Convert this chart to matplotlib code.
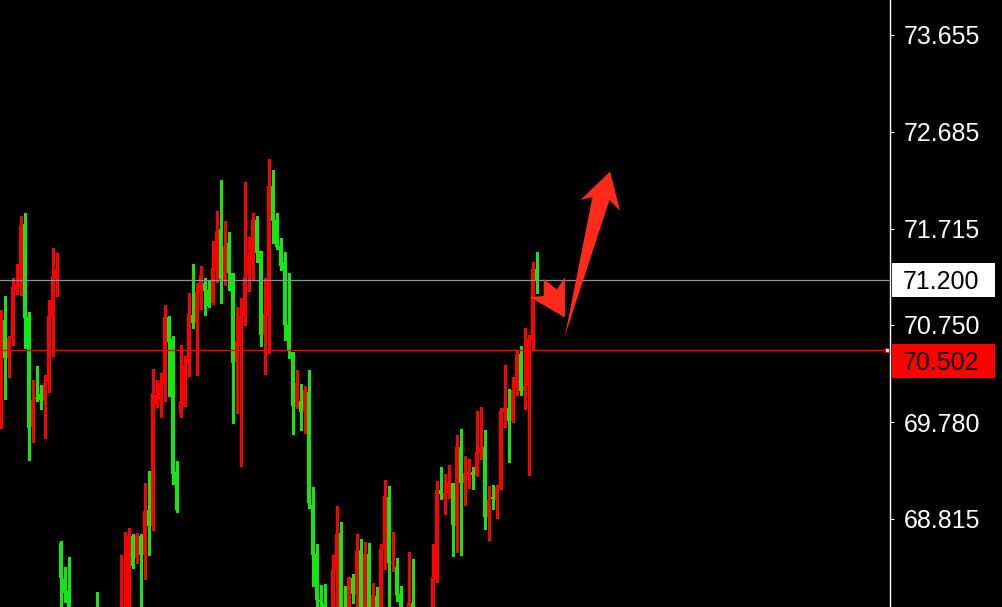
import matplotlib
matplotlib.use("Agg")
import matplotlib.pyplot as plt
import matplotlib.transforms as mtransforms
from matplotlib.patches import Polygon, Rectangle
import numpy as np

# ---- OHLC series (one bar per period) ----
opens = [69.75, 70.80, 70.42, 70.61, 71.10, 71.13, 71.76, 70.83, 69.73, 70.02,
         70.06, 69.99, 70.18, 70.83, 71.21, 68.57, 68.21, 68.09, 67.70, 67.45,
         67.60, 67.40, 67.55, 67.70, 67.82, 67.60, 67.75, 67.55, 67.70, 67.82,
         67.60, 67.86, 67.94, 68.64, 68.42, 68.64, 68.45, 68.90, 68.74, 69.95,
         70.01, 70.16, 70.83, 70.61, 69.28, 69.86, 69.95, 70.38, 70.85, 70.77,
         71.07, 71.17, 71.10, 70.97, 71.31, 71.71, 71.20, 71.57, 71.27, 70.38,
         70.54, 70.84, 71.25, 71.40, 71.80, 71.49, 70.66, 70.84, 72.14, 71.80,
         71.54, 71.37, 70.75, 70.48, 69.93, 69.99, 69.88, 70.08, 68.95, 68.46,
         68.00, 67.97, 67.72, 67.82, 68.30, 68.67, 67.85, 67.75, 68.22, 68.05,
         68.50, 67.88, 68.46, 67.85, 68.04, 67.88, 68.52, 69.03, 68.37, 68.33,
         68.06, 67.82, 67.85, 67.97, 67.86, 67.68, 67.80, 67.72, 67.85, 68.21,
         69.10, 69.01, 69.07, 69.17, 68.74, 69.53, 69.17, 69.25, 69.28, 69.25,
         69.47, 69.53, 68.83, 69.03, 69.00, 69.12, 69.88, 69.92, 69.79, 70.12,
         70.46, 70.09, 70.14, 70.60, 71.31]
highs = [70.90, 71.04, 70.64, 71.22, 71.36, 71.84, 71.87, 70.88, 70.20, 70.34,
         70.15, 70.25, 71.00, 71.52, 71.47, 68.59, 68.33, 68.43, 67.80, 67.70,
         67.68, 67.64, 67.80, 67.88, 68.08, 67.85, 67.82, 67.80, 67.88, 67.89,
         68.45, 68.68, 68.72, 68.66, 68.67, 68.66, 69.17, 69.29, 70.31, 70.20,
         70.27, 70.95, 70.84, 70.64, 69.39, 70.55, 70.44, 71.07, 71.36, 71.17,
         71.34, 71.22, 71.20, 71.59, 71.89, 72.20, 71.79, 71.68, 71.27, 70.93,
         71.02, 72.18, 71.63, 71.87, 71.84, 71.49, 71.22, 72.41, 72.30, 71.87,
         71.62, 71.48, 71.27, 70.48, 70.30, 70.16, 70.14, 70.30, 69.13, 68.56,
         68.15, 68.16, 67.88, 68.45, 68.94, 68.78, 68.14, 68.23, 68.26, 68.66,
         68.61, 68.58, 68.57, 68.17, 68.13, 68.56, 69.20, 69.14, 68.68, 68.42,
         68.14, 67.90, 68.48, 68.41, 67.90, 67.85, 67.88, 67.90, 68.56, 69.19,
         69.33, 69.26, 69.35, 69.17, 69.65, 69.71, 69.44, 69.41, 69.33, 69.89,
         69.93, 69.70, 69.14, 69.15, 69.15, 69.92, 70.35, 70.11, 70.23, 70.49,
         70.54, 70.72, 70.65, 71.38, 71.48]
lows = [69.72, 70.01, 70.23, 70.55, 71.06, 71.05, 70.52, 69.40, 69.58, 69.99,
        69.91, 69.62, 70.08, 70.44, 71.04, 67.80, 67.98, 67.60, 67.40, 67.35,
        67.30, 67.32, 67.50, 67.52, 67.50, 67.52, 67.48, 67.50, 67.62, 67.52,
        67.50, 67.64, 67.88, 68.32, 68.37, 67.88, 68.21, 68.45, 68.70, 69.93,
        69.83, 69.99, 70.04, 69.16, 68.88, 69.83, 69.94, 70.24, 70.72, 70.25,
        70.91, 70.85, 70.93, 70.96, 71.18, 70.97, 71.15, 71.10, 69.77, 69.87,
        69.34, 70.75, 71.09, 71.21, 71.38, 70.54, 70.26, 70.47, 71.57, 71.51,
        71.30, 70.60, 70.42, 69.66, 69.92, 69.70, 69.67, 68.92, 68.14, 67.90,
        67.88, 67.70, 67.60, 67.75, 67.88, 67.80, 67.60, 67.68, 67.97, 67.88,
        67.82, 67.82, 67.82, 67.78, 67.80, 67.82, 68.31, 67.88, 68.29, 67.99,
        67.82, 67.75, 67.80, 67.80, 67.60, 67.55, 67.64, 67.68, 67.80, 68.18,
        69.01, 68.86, 69.02, 68.44, 68.48, 68.45, 68.95, 69.12, 69.11, 69.24,
        69.41, 68.71, 68.60, 68.91, 68.82, 69.11, 69.73, 69.38, 69.78, 70.05,
        70.05, 69.91, 69.25, 70.50, 71.07]
closes = [70.80, 70.42, 70.62, 71.13, 71.16, 71.74, 70.82, 69.72, 70.00, 70.01,
          70.00, 70.17, 70.84, 71.24, 71.30, 68.22, 68.07, 67.70, 67.50, 67.60,
          67.38, 67.55, 67.70, 67.82, 67.60, 67.75, 67.55, 67.72, 67.82, 67.60,
          67.88, 67.94, 68.64, 68.34, 68.65, 68.45, 68.89, 68.74, 70.07, 70.05,
          70.17, 70.83, 70.58, 69.26, 68.90, 69.99, 70.34, 70.86, 70.77, 71.08,
          71.25, 71.09, 70.94, 71.32, 71.69, 71.21, 71.53, 71.27, 70.37, 70.59,
          70.84, 71.23, 71.44, 71.80, 71.47, 70.65, 70.86, 72.14, 71.79, 71.53,
          71.34, 70.75, 70.50, 69.94, 70.17, 69.88, 70.10, 68.97, 68.45, 68.00,
          67.98, 67.80, 67.82, 68.30, 68.66, 67.85, 67.65, 68.22, 68.06, 68.49,
          67.88, 68.46, 67.88, 68.05, 67.88, 68.51, 69.04, 68.37, 68.38, 68.05,
          67.88, 67.88, 67.97, 67.86, 67.70, 67.80, 67.72, 67.85, 68.23, 69.10,
          69.06, 69.07, 69.17, 68.75, 69.53, 69.17, 69.27, 69.29, 69.25, 69.48,
          69.53, 68.83, 69.00, 69.01, 69.13, 69.89, 69.92, 69.79, 70.10, 70.46,
          70.09, 70.14, 70.61, 71.31, 71.20]

price_ticks = [73.655, 72.685, 71.715, 70.750, 69.780, 68.815]
bid_price = 71.200
level_price = 70.502

UP_COLOR = "#ff0000"
DOWN_COLOR = "#10e810"
ARROW_COLOR = "#ff2a1c"
TEXT_FONT = "Liberation Sans"

W, H = 1003, 607
PLOT_W = 890          # width of the price pane in pixels
BAR_PX = 4            # horizontal spacing of bars in pixels

fig = plt.figure(figsize=(W / 100, H / 100), dpi=100, facecolor="black")
ax = fig.add_axes([0, 0, PLOT_W / W, 1])
ax.set_facecolor("black")

# bar centres fall on pixel centres so the 3 px bodies stay crisp
x0 = -0.125
ax.set_xlim(x0, x0 + PLOT_W / BAR_PX)
ax.set_ylim(74.0 - H / 100, 74.0)

o = np.array(opens)
c = np.array(closes)
x = np.arange(len(o))
colors = np.where(c >= o, UP_COLOR, DOWN_COLOR)

# wicks
ax.vlines(x, lows, highs, colors=colors, linewidth=0.75, antialiased=False, zorder=2)
# bodies
bottoms = np.minimum(o, c)
heights = np.maximum(np.abs(c - o), 0.012)
ax.bar(x, heights, bottom=bottoms, width=0.75, color=colors, linewidth=0,
       snap=False, zorder=2)

# horizontal price lines
ax.axhline(bid_price, color="#8a929c", linewidth=0.9, zorder=3)
ax.axhline(level_price, color="#ff0000", linewidth=1.0, zorder=3)
blend = mtransforms.blended_transform_factory(ax.transAxes, ax.transData)
ax.plot([887.5 / PLOT_W], [level_price], transform=blend, marker="s", ms=3.2,
        mfc="white", mec="#ff0000", mew=0.8, clip_on=False, zorder=6)

# hand-drawn style arrows
up_arrow = [(141.1, 70.64), (148.0, 72.03), (145.0, 72.00), (152.4, 72.285),
            (154.9, 71.89), (152.25, 72.00)]
down_arrow = [(135.8, 71.21), (139.1, 71.105), (141.1, 71.23), (141.1, 70.825),
              (132.3, 71.03), (135.8, 71.04)]
for pts in (up_arrow, down_arrow):
    ax.add_patch(Polygon(pts, closed=True, facecolor=ARROW_COLOR,
                         edgecolor="none", zorder=5))

# right price scale
for side in ("top", "bottom", "left"):
    ax.spines[side].set_visible(False)
ax.spines["right"].set_color("white")
ax.spines["right"].set_linewidth(1.0)
ax.set_xticks([])
ax.yaxis.tick_right()
ax.set_yticks(price_ticks)
ax.set_yticklabels([f"{p:.3f}" for p in price_ticks])
ax.tick_params(axis="y", colors="white", length=3.2, width=0.75, pad=6.5,
               labelsize=18, labelcolor="white")
for lbl in ax.get_yticklabels():
    lbl.set_fontfamily(TEXT_FONT)


def price_tag(center_y_px, label, face):
    top = center_y_px - 17
    fig.patches.append(Rectangle((892 / W, 1 - (top + 34) / H), 103 / W, 34 / H,
                                 transform=fig.transFigure, facecolor=face,
                                 edgecolor="none", zorder=4))
    fig.text(903 / W, 1 - center_y_px / H, label, color="black", fontsize=18,
             family=TEXT_FONT, ha="left", va="center_baseline", zorder=5)


price_tag((74.0 - bid_price) * 100, f"{bid_price:.3f}", "white")
price_tag((74.0 - level_price) * 100 + 11, f"{level_price:.3f}", "#ff0000")

fig.savefig("out.png", dpi=100, facecolor="black")
